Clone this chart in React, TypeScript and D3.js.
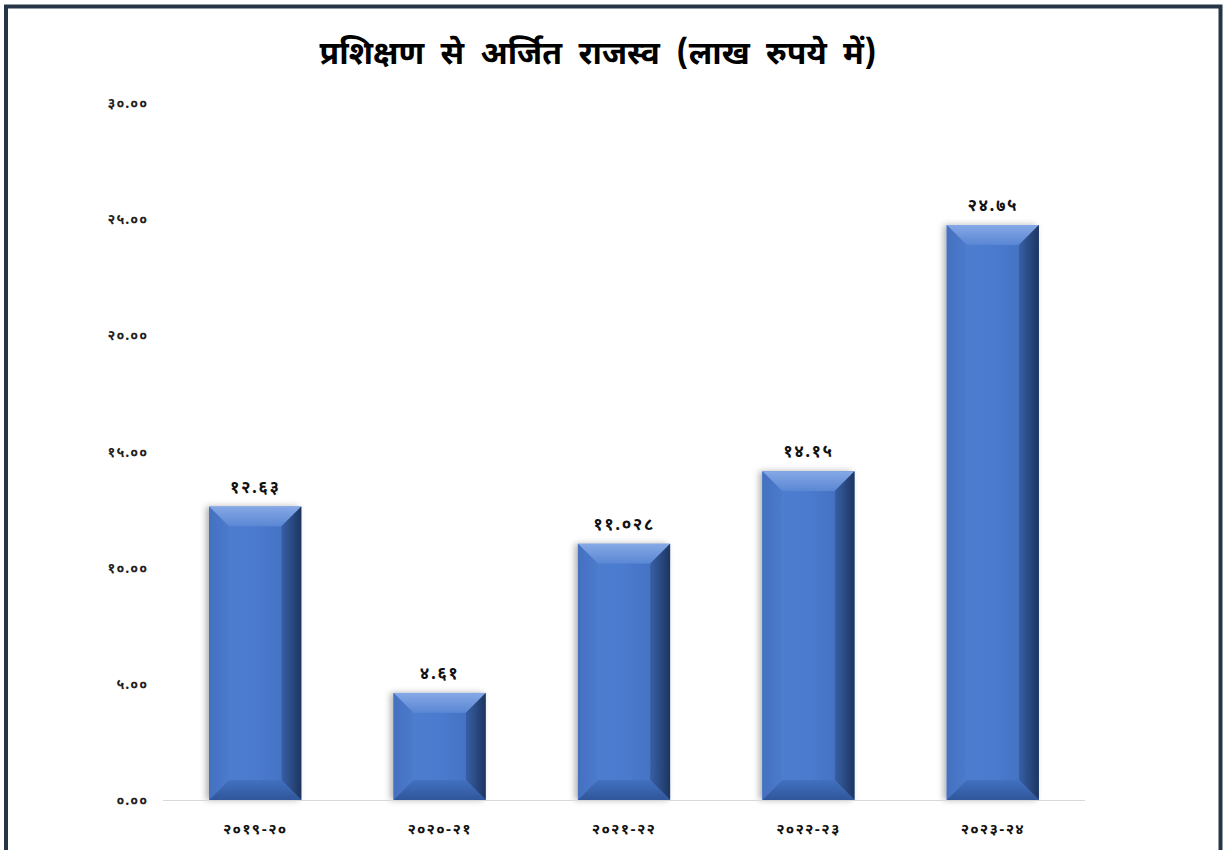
import React from "react";
import * as d3 from "d3";

const categories = ["2019-20", "2020-21", "2021-22", "2022-23", "2023-24"];
const values = [12.63, 4.61, 11.028, 14.15, 24.75];
const yTicks = [0, 5, 10, 15, 20, 25, 30];
const title = "प्रशिक्षण से अर्जित राजस्व (लाख रुपये में)";

const devDigits = "०१२३४५६७८९";
const toDev = (s: string) => s.replace(/[0-9]/g, (d) => devDigits[+d]);

const W = 1224;
const H = 850;
const margin = { left: 163, right: 139, top: 103, bottom: 50 };
const FONT = "'Noto Sans Devanagari', 'Noto Sans', 'DejaVu Sans', sans-serif";

export default function App() {
  const x = d3
    .scaleBand<string>()
    .domain(categories)
    .range([margin.left, W - margin.right])
    .paddingInner(0.5)
    .paddingOuter(0.25);
  const y = d3.scaleLinear().domain([0, 30]).range([H - margin.bottom, margin.top]);
  const bw = x.bandwidth();
  const bev = 20;

  return (
    <div style={{ position: "absolute", left: 0, top: 0, width: W, height: H, overflow: "hidden" }}>
      <svg width={W} height={H} style={{ display: "block", background: "#ffffff" }}>
        <defs>
          <linearGradient id="face" x1="0" x2="1" y1="0" y2="0">
            <stop offset="0" stopColor="#4d7dce" />
            <stop offset="0.5" stopColor="#4b7bcf" />
            <stop offset="1" stopColor="#4573c4" />
          </linearGradient>
          <linearGradient id="topB" x1="0" x2="0" y1="0" y2="1">
            <stop offset="0" stopColor="#86a9e6" />
            <stop offset="1" stopColor="#5a86d3" />
          </linearGradient>
          <linearGradient id="leftB" x1="0" x2="1" y1="0" y2="0">
            <stop offset="0" stopColor="#4470bf" />
            <stop offset="1" stopColor="#4c7bcc" />
          </linearGradient>
          <linearGradient id="rightB" x1="0" x2="1" y1="0" y2="0">
            <stop offset="0" stopColor="#3860a6" />
            <stop offset="1" stopColor="#1d3560" />
          </linearGradient>
          <linearGradient id="botB" x1="0" x2="0" y1="0" y2="1">
            <stop offset="0" stopColor="#4271c0" />
            <stop offset="1" stopColor="#30569a" />
          </linearGradient>
          <filter id="shadow" x="-30%" y="-10%" width="160%" height="120%">
            <feDropShadow dx="-3" dy="0" stdDeviation="3" floodColor="#000" floodOpacity="0.3" />
          </filter>
        </defs>

        {/* frame */}
        <path d={`M6,${H + 10} L6,6.5 L1220.5,6.5 L1220.5,${H + 10}`} fill="none" stroke="#253447" strokeWidth={4} />

        {/* title */}
        <text
          x={598}
          y={64}
          textAnchor="middle"
          fontFamily={FONT}
          fontWeight="bold"
          fontSize={32}
          wordSpacing={8}
          fill="#000"
        >
          {title}
        </text>

        {/* y tick labels */}
        {yTicks.map((t) => (
          <text
            key={t}
            x={148}
            y={y(t) + 5}
            textAnchor="end"
            fontFamily={FONT}
            fontWeight="bold"
            fontSize={14}
            letterSpacing={1}
            fill="#222"
          >
            {toDev(t.toFixed(2))}
          </text>
        ))}

        {/* bars */}
        {categories.map((c, i) => {
          const x0 = x(c)!;
          const x1 = x0 + bw;
          const y0 = y(values[i]);
          const y1 = y(0);
          const b = Math.min(bev, (y1 - y0) / 2);
          return (
            <g key={c}>
              <rect x={x0} y={y0} width={bw} height={y1 - y0} fill="url(#face)" filter="url(#shadow)" />
              <polygon points={`${x0},${y0} ${x1},${y0} ${x1 - bev},${y0 + b} ${x0 + bev},${y0 + b}`} fill="url(#topB)" />
              <polygon points={`${x0},${y0} ${x0 + bev},${y0 + b} ${x0 + bev},${y1 - b} ${x0},${y1}`} fill="url(#leftB)" />
              <polygon points={`${x1},${y0} ${x1},${y1} ${x1 - bev},${y1 - b} ${x1 - bev},${y0 + b}`} fill="url(#rightB)" />
              <polygon points={`${x0},${y1} ${x0 + bev},${y1 - b} ${x1 - bev},${y1 - b} ${x1},${y1}`} fill="url(#botB)" />
              <rect x={x0 + bev} y={y0 + b} width={bw - 2 * bev} height={Math.max(0, y1 - y0 - 2 * b)} fill="url(#face)" />
              <text
                x={x0 + bw / 2}
                y={y0 - 14}
                textAnchor="middle"
                fontFamily={FONT}
                fontWeight="bold"
                fontSize={17}
                letterSpacing={1.5}
                fill="#111"
              >
                {toDev(String(values[i]))}
              </text>
            </g>
          );
        })}

        {/* axis line */}
        <line x1={margin.left} x2={W - margin.right} y1={y(0) + 0.5} y2={y(0) + 0.5} stroke="#d9d9d9" strokeWidth={1} />

        {/* x labels */}
        {categories.map((c) => (
          <text
            key={c}
            x={x(c)! + bw / 2}
            y={834}
            textAnchor="middle"
            fontFamily={FONT}
            fontWeight="bold"
            fontSize={15}
            letterSpacing={1.2}
            fill="#111"
          >
            {toDev(c)}
          </text>
        ))}
      </svg>
    </div>
  );
}
